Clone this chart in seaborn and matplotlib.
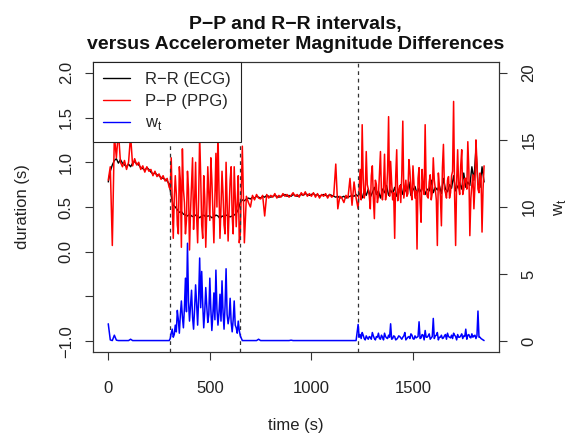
import matplotlib.pyplot as plt
from matplotlib.lines import Line2D
import seaborn as sns
import pandas as pd
import numpy as np

# ECG trace: one sample every 10 s
time_rr = np.arange(0, 1860, 10)
# PPG / accelerometer traces: 10 s in calm parts, 5 s in the busy parts
time_fine = np.concatenate([np.arange(0, 301, 10), np.arange(305, 651, 5),
                            np.arange(660, 1221, 10), np.arange(1230, 1851, 5)])

# R-R interval from the ECG (s)
rr_ecg = [
    # 0 - 300 s
    0.78, 0.90, 0.97, 1.02, 1.04, 0.99, 1.03, 0.99, 0.97, 0.95,
    0.98, 0.95, 0.99, 1.01, 0.98, 0.97, 0.94, 0.93, 0.91, 0.94,
    0.92, 0.89, 0.87, 0.88, 0.86, 0.85, 0.83, 0.82, 0.81, 0.79,
    0.76,
    # 310 - 650 s
    0.62, 0.52, 0.50, 0.47, 0.44, 0.45, 0.42, 0.41, 0.40, 0.42,
    0.40, 0.39, 0.41, 0.40, 0.38, 0.40, 0.41, 0.39, 0.40, 0.40,
    0.38, 0.39, 0.41, 0.40, 0.37, 0.40, 0.39, 0.41, 0.40, 0.39,
    0.40, 0.41, 0.43, 0.47, 0.55,
    # 660 - 1220 s
    0.58, 0.57, 0.59, 0.60, 0.59, 0.61, 0.60, 0.62, 0.61, 0.60,
    0.62, 0.61, 0.63, 0.62, 0.61, 0.62, 0.63, 0.62, 0.61, 0.62,
    0.63, 0.64, 0.62, 0.63, 0.62, 0.64, 0.63, 0.62, 0.63, 0.64,
    0.63, 0.65, 0.64, 0.63, 0.64, 0.65, 0.63, 0.64, 0.62, 0.63,
    0.64, 0.63, 0.62, 0.64, 0.63, 0.62, 0.61, 0.62, 0.60, 0.61,
    0.62, 0.60, 0.61, 0.62, 0.63, 0.62, 0.64,
    # 1230 - 1850 s
    0.62, 0.66, 0.60, 0.68, 0.63, 0.70, 0.61, 0.66, 0.72, 0.64,
    0.68, 0.60, 0.70, 0.66, 0.74, 0.63, 0.69, 0.65, 0.72, 0.62,
    0.67, 0.75, 0.64, 0.70, 0.66, 0.78, 0.63, 0.69, 0.73, 0.65,
    0.71, 0.67, 0.76, 0.64, 0.70, 0.68, 0.80, 0.66, 0.72, 0.69,
    0.74, 0.65, 0.82, 0.70, 0.67, 0.75, 0.71, 0.85, 0.68, 0.73,
    0.77, 0.70, 0.88, 0.72, 0.78, 0.74, 0.95, 0.80, 1.15, 0.76,
    0.72, 0.95, 0.78,
]

# P-P interval from the PPG (s)
pp_seg1 = [
    0.80, 0.95, 0.07, 1.30, 1.05, 1.35, 1.00, 0.95, 1.02, 0.92,
    1.00, 1.30, 0.96, 1.04, 0.97, 1.00, 0.92, 0.96, 0.89, 0.95,
    0.90, 0.92, 0.85, 0.90, 0.84, 0.87, 0.81, 0.85, 0.79, 0.82,
    0.72,
]
pp_seg2 = [
    0.70, 1.05, 0.55, 0.15, 0.60, 0.85, 0.65, 0.30, 0.20, 0.95,
    0.80, 0.05, 1.15, 0.70, 0.55, 0.20, 0.35, 0.90, 0.70, 0.02,
    0.45, 0.75, 1.05, 0.25, 0.55, 1.00, 0.40, 0.10, 0.60, 1.30,
    0.85, 0.30, 0.15, 0.85, 0.60, 0.05, 0.45, 0.95, 0.65, 0.35,
    1.05, 0.80, 0.45, 0.10, 0.60, 1.10, 0.50, 1.35, 0.70, 0.15,
    0.50, 0.90, 0.65, 0.30, 0.20, 1.00, 0.55, 0.12, 0.45, 0.80,
    0.95, 0.40, 0.20, 0.95, 0.60, 0.28, 0.55, 0.85, 0.10, 0.20,
]
pp_seg3 = [
    1.18, 0.10, 0.62, 0.55, 0.50, 0.63, 0.58, 0.64, 0.60, 0.59,
    0.63, 0.40, 0.64, 0.60, 0.63, 0.61, 0.65, 0.60, 0.63, 0.61,
    0.65, 0.62, 0.64, 0.61, 0.63, 0.66, 0.62, 0.64, 0.61, 0.66,
    0.63, 0.67, 0.62, 0.65, 0.62, 0.66, 0.61, 0.65, 0.60, 0.64,
    0.62, 0.65, 0.60, 0.64, 0.61, 0.63, 0.98, 0.48, 0.62, 0.60,
    0.55, 0.63, 0.60, 0.82, 0.52, 0.78, 0.60,
]
pp_seg4 = [
    0.48, 0.70, 0.92, 0.58, 1.42, 0.82, 0.60, 0.66, 1.12, 0.75,
    0.70, 0.62, 0.48, 0.85, 0.96, 0.60, 0.37, 0.80, 0.75, 0.55,
    0.62, 0.88, 1.12, 0.64, 0.58, 0.72, 1.09, 0.58, 0.66, 0.90,
    1.51, 0.62, 1.01, 0.78, 0.58, 0.66, 0.15, 0.84, 1.14, 0.57,
    0.68, 0.74, 0.55, 0.86, 1.46, 0.60, 0.70, 0.80, 0.62, 0.65,
    1.03, 0.90, 0.66, 0.58, 0.96, 0.76, 0.60, 0.68, 0.03, 0.82,
    0.94, 0.55, 0.33, 0.92, 0.72, 0.64, 1.42, 0.72, 0.62, 0.60,
    0.78, 0.86, 0.58, 0.66, 1.05, 0.80, 0.70, 0.58, 0.07, 0.88,
    0.74, 0.62, 0.29, 0.94, 1.20, 0.70, 0.66, 0.60, 0.80, 0.84,
    0.60, 0.66, 0.85, 0.90, 1.68, 0.62, 0.07, 0.78, 1.14, 0.72,
    0.64, 0.96, 1.14, 0.64, 0.70, 0.82, 0.82, 0.70, 1.23, 0.92,
    0.18, 0.60, 0.75, 0.86, 0.48, 0.74, 1.25, 1.00, 0.70, 0.66,
    0.88, 0.84, 0.22, 0.70, 0.96,
]

# accelerometer magnitude difference w_t
w_seg1 = [
    1.30, 0.10, 0.05, 0.45, 0.08, 0.05, 0.05, 0.05, 0.05, 0.05,
    0.05, 0.15, 0.05, 0.05, 0.05, 0.05, 0.05, 0.05, 0.05, 0.05,
    0.05, 0.05, 0.05, 0.05, 0.05, 0.05, 0.05, 0.05, 0.05, 0.05,
    0.05,
]
w_seg2 = [
    0.20, 0.60, 0.90, 0.30, 0.50, 1.20, 0.70, 2.30, 1.60, 0.60,
    2.00, 3.00, 1.80, 1.00, 2.50, 4.70, 2.20, 7.30, 3.00, 1.50,
    2.60, 3.80, 1.80, 0.90, 2.40, 4.20, 2.80, 1.20, 3.20, 6.20,
    2.50, 5.20, 2.80, 1.00, 2.20, 4.00, 2.60, 1.40, 2.00, 4.70,
    2.40, 0.80, 2.00, 3.60, 1.60, 5.30, 2.40, 1.20, 2.10, 3.50,
    1.50, 4.50, 2.20, 0.90, 2.60, 5.40, 2.00, 1.30, 1.80, 3.20,
    1.40, 0.70, 1.60, 3.00, 1.20, 1.00, 0.60, 1.50, 0.80, 0.40,
]
w_seg3 = [
    0.05, 0.05, 0.05, 0.05, 0.05, 0.05, 0.05, 0.05, 0.15, 0.05,
    0.05, 0.05, 0.05, 0.05, 0.05, 0.05, 0.05, 0.05, 0.05, 0.05,
    0.05, 0.05, 0.05, 0.05, 0.08, 0.05, 0.05, 0.05, 0.05, 0.05,
    0.05, 0.05, 0.05, 0.05, 0.05, 0.05, 0.05, 0.05, 0.05, 0.05,
    0.05, 0.05, 0.05, 0.05, 0.05, 0.05, 0.05, 0.05, 0.05, 0.05,
    0.05, 0.05, 0.05, 0.05, 0.05, 0.05, 0.05,
]
w_seg4 = [
    1.25, 0.30, 0.50, 0.20, 0.65, 0.45, 0.20, 0.10, 0.40, 0.25,
    0.15, 0.35, 0.30, 0.15, 0.65, 0.40, 0.20, 0.10, 0.35, 0.30,
    0.60, 0.20, 0.15, 0.45, 0.30, 0.10, 0.60, 0.35, 0.25, 0.20,
    0.45, 0.30, 1.30, 0.15, 0.20, 0.40, 0.35, 0.10, 0.15, 0.25,
    0.40, 0.35, 0.25, 0.15, 0.30, 0.40, 0.65, 0.10, 0.20, 0.30,
    0.35, 0.20, 0.55, 0.45, 0.20, 0.15, 0.40, 0.25, 0.30, 0.35,
    1.45, 0.20, 0.25, 0.50, 0.45, 0.10, 0.80, 0.30, 0.30, 0.40,
    0.55, 0.15, 0.25, 0.35, 1.70, 0.20, 0.40, 0.45, 0.65, 0.10,
    0.30, 0.30, 0.45, 0.20, 0.25, 0.40, 0.50, 0.15, 0.60, 0.35,
    0.30, 0.25, 0.45, 0.20, 0.60, 0.45, 0.35, 0.10, 0.50, 0.30,
    0.30, 0.40, 0.55, 0.20, 0.40, 0.35, 0.90, 0.15, 0.45, 0.50,
    0.30, 0.25, 0.55, 0.30, 0.40, 0.45, 0.20, 0.40, 2.25, 0.30,
    0.30, 0.20, 0.15, 0.10, 0.05,
]

pp_ppg = pp_seg1 + pp_seg2 + pp_seg3 + pp_seg4
w_t = w_seg1 + w_seg2 + w_seg3 + w_seg4

# segment boundaries (s)
boundaries = [305, 650, 1230]

labels = ["R\u2212R (ECG)", "P\u2212P (PPG)", r"w$_\mathrm{t}$"]
colors = ["black", "#ff0000", "#0000ff"]

df_rr = pd.DataFrame({"time": time_rr, "rr": rr_ecg})
df_fine = pd.DataFrame({"time": time_fine, "pp": pp_ppg, "w": w_t})

sns.set_style("white")
plt.rcParams['font.family'] = ['Liberation Sans', 'DejaVu Sans']
plt.rcParams['mathtext.fontset'] = 'custom'
plt.rcParams['mathtext.rm'] = 'Liberation Sans'
plt.rcParams['axes.unicode_minus'] = True

fig = plt.figure(figsize=(5.79, 4.34), dpi=100)
ax = fig.add_axes([0.161, 0.189, 0.701, 0.668])
ax2 = ax.twinx()

sns.lineplot(data=df_rr, x="time", y="rr", ax=ax, color=colors[0], lw=1.0,
             estimator=None, legend=False)
sns.lineplot(data=df_fine, x="time", y="pp", ax=ax, color=colors[1], lw=1.1,
             estimator=None, legend=False)
sns.lineplot(data=df_fine, x="time", y="w", ax=ax2, color=colors[2], lw=1.1,
             estimator=None, legend=False)

for b in boundaries:
    ax.axvline(b, color="#333333", lw=0.9, ls=(0, (3, 3)))

# R style ranges (4% padding)
ax.set_xlim(-74, 1924)
ax.set_ylim(-1.12, 2.12)
ax2.set_ylim(-0.8, 20.8)

ax.set_xticks([0, 500, 1000, 1500])
ax.set_yticks([-1.0, -0.5, 0.0, 0.5, 1.0, 1.5, 2.0])
ax.set_yticklabels(["\u22121.0", "", "0.0", "0.5", "1.0", "1.5", "2.0"])
ax2.set_yticks([0, 5, 10, 15, 20])

for a in (ax, ax2):
    a.tick_params(axis="both", which="both", length=6, width=0.8,
                  color="#333333", labelsize=12, labelcolor="#222222")
    for s in a.spines.values():
        s.set_color("#333333")
        s.set_linewidth(0.8)
ax.tick_params(axis="x", pad=15, bottom=True)
ax.tick_params(axis="y", pad=8, left=True, labelrotation=90)
ax2.tick_params(axis="y", pad=10, right=True, labelrotation=90)
for lab in ax.get_yticklabels() + ax2.get_yticklabels():
    lab.set_va("center")

ax.set_xlabel("time (s)", fontsize=12, color="#222222")
ax.set_ylabel("duration (s)", fontsize=12, color="#222222")
ax2.set_ylabel(labels[2], fontsize=12, color="#222222", rotation=90)
ax.xaxis.set_label_coords(0.5, -0.252)
ax.xaxis.label.set_va("center")
ax.yaxis.set_label_coords(-0.175, 0.5)
ax.yaxis.label.set_va("center")
ax2.yaxis.set_label_coords(1.15, 0.5)
ax2.yaxis.label.set_va("center")

fig.text(0.511, 0.921,
         "P\u2212P and R\u2212R intervals,\nversus Accelerometer Magnitude Differences",
         ha="center", va="center", fontsize=14, fontweight="bold",
         linespacing=1.2, color="#111111")

handles = [Line2D([], [], color=c, lw=1.0) for c in colors]
leg = ax2.legend(handles, labels, loc="upper left",
                 bbox_to_anchor=(0, 1), borderaxespad=0, fontsize=12,
                 frameon=True, fancybox=False, framealpha=1, edgecolor="#222222",
                 handlelength=1.6, handletextpad=0.9, labelspacing=0.4,
                 borderpad=0.6)
leg.get_frame().set_linewidth(0.8)

fig.savefig("out.png", dpi=100, facecolor="white")
